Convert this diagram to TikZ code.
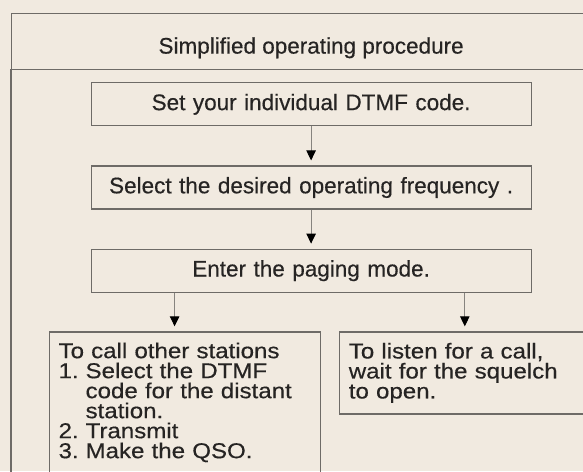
\documentclass[tikz,border=0pt]{standalone}
\usepackage{fontspec}
\setmainfont[FakeBold=0.4]{Liberation Sans}
\newfontfamily\widesans[FakeStretch=1.12,FakeBold=0.4]{Liberation Sans}
\usetikzlibrary{positioning,arrows.meta}

\definecolor{paper}{RGB}{241,234,224}
\definecolor{rule}{RGB}{110,107,103}
\definecolor{ink}{RGB}{38,36,35}
\definecolor{shaft}{RGB}{135,132,127}

\begin{document}
\begin{tikzpicture}[
    x=1pt, y=1pt,
    every node/.style={text=ink},
    box/.style={
        draw=rule,
        line width=1.2pt,
        align=center,
        text width=420pt,
        inner xsep=10pt,
        minimum height=43pt,
        font=\fontsize{22.5}{27}\selectfont
    },
    listbox/.style={
        draw=rule,
        line width=1.2pt,
        align=left,
        anchor=north west,
        inner xsep=9pt,
        font=\widesans\fontsize{21.5}{20}\selectfont
    },
    arrow/.style={draw=shaft, line width=0.9pt,
        -{Triangle[length=10pt,width=9.5pt,color=black]}, shorten >=5pt}
]
\path[fill=paper, use as bounding box] (0,0) rectangle (583,-471);
\clip (0,0) rectangle (583,-471);

% heading band and outer frame
\node (title) [draw=rule, line width=1.2pt, anchor=north west,
    minimum width=599pt, minimum height=55.5pt,
    text height=28.5pt, text depth=4pt,
    font=\fontsize{22.5}{27}\selectfont] at (11,-13)
    {Simplified operating procedure};
\draw [draw=rule, line width=1.2pt]
    (title.south west) rectangle ([yshift=-430pt]title.south east);

\node (setcode) [box, below=12.5pt of title]
    {Set your individual DTMF code.};

\node (select) [box, below=39pt of setcode]
    {Select the desired operating frequency .};

\node (enter) [box, below=39pt of select]
    {Enter the paging mode.};

\node (call) [listbox, text width=253pt, minimum height=141pt]
    at ([xshift=-41.5pt, yshift=-38.5pt]enter.south west)
    {To call other stations\\
     \makebox[27pt][l]{1.}Select the DTMF\\
     \hspace*{27pt}code for the distant\\
     \hspace*{27pt}station.\\
     \makebox[27pt][l]{2.}Transmit\\
     \makebox[27pt][l]{3.}Make the QSO.};

\node (listen) [listbox, text width=249pt, minimum height=82pt]
    at ([xshift=18pt]call.north east)
    {To listen for a call,\\
     wait for the squelch\\
     to open.};

\draw [arrow] (setcode) -- (select);
\draw [arrow] (select) -- (enter);
\draw [arrow] ([xshift=-10.5pt]call.north |- enter.south) -- ([xshift=-10.5pt]call.north);
\draw [arrow] ([xshift=-8.5pt]listen.north |- enter.south) -- ([xshift=-8.5pt]listen.north);

\end{tikzpicture}
\end{document}
